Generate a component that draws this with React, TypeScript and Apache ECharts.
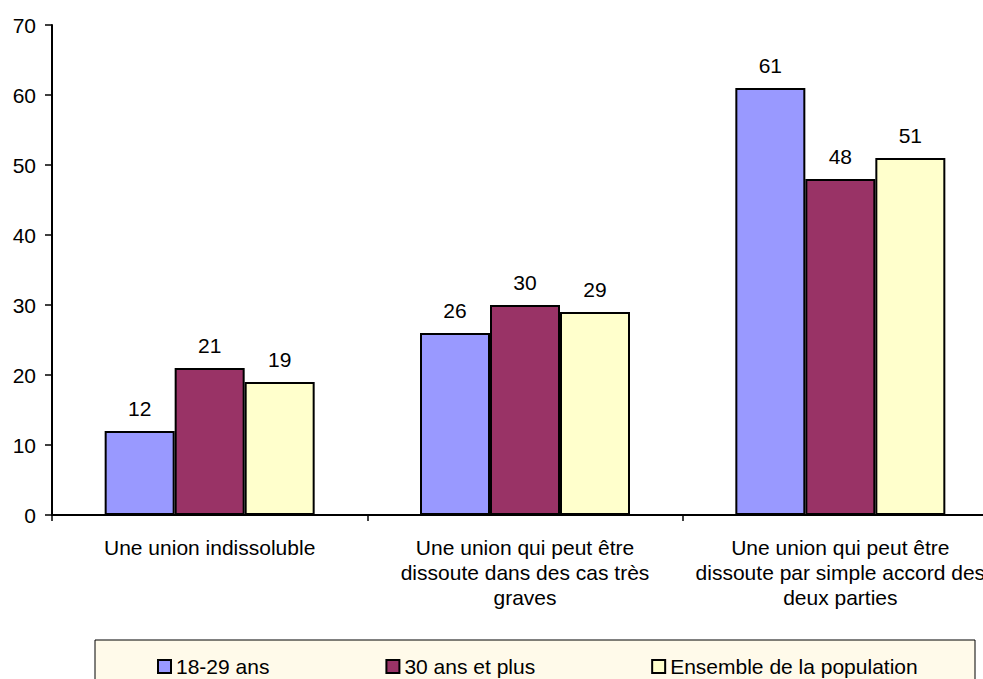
import React, { useEffect, useRef } from "react";
import * as echarts from "echarts";

const categories = [
  "Une union indissoluble",
  "Une union qui peut être\ndissoute dans des cas très\ngraves",
  "Une union qui peut être\ndissoute par simple accord des\ndeux parties",
];
const seriesNames = ["18-29 ans", "30 ans et plus", "Ensemble de la population"];
const values1829 = [12, 26, 61];
const values30plus = [21, 30, 48];
const valuesAll = [19, 29, 51];
const colors = ["#9999FF", "#993366", "#FFFFCC"];

export default function App() {
  const ref = useRef<HTMLDivElement>(null);
  useEffect(() => {
    if (!ref.current) return;
    const chart = echarts.init(ref.current, null, { renderer: "svg" });
    const font = "Liberation Sans, Arial, sans-serif";
    const data = [values1829, values30plus, valuesAll];
    chart.setOption({
      animation: false,
      textStyle: { fontFamily: font },
      grid: { left: 52, top: 25, width: 946, bottom: 164, containLabel: false },
      xAxis: {
        type: "category",
        data: categories,
        axisLine: { lineStyle: { color: "#000", width: 2 } },
        axisTick: { show: true, length: 6, lineStyle: { color: "#000", width: 1.5 } },
        axisLabel: {
          color: "#000",
          fontSize: 21,
          fontFamily: font,
          lineHeight: 25,
          margin: 20,
          interval: 0,
        },
      },
      yAxis: {
        type: "value",
        min: 0,
        max: 70,
        interval: 10,
        splitLine: { show: false },
        axisLine: { show: true, lineStyle: { color: "#000", width: 2 } },
        axisTick: { show: true, length: 7, lineStyle: { color: "#000", width: 1.5 } },
        axisLabel: { color: "#000", fontSize: 21, fontFamily: font, margin: 16 },
      },
      legend: {
        left: 152,
        top: 651,
        itemWidth: 13,
        itemHeight: 13,
        itemGap: 116,
        icon: "rect",
        textStyle: { color: "#000", fontSize: 21, fontFamily: font },
        data: seriesNames,
        z: 10,
      },
      graphic: [
        {
          type: "rect",
          z: 0,
          shape: { x: 95, y: 640, width: 880, height: 60 },
          style: { fill: "#FFFAEA", stroke: "#000", lineWidth: 1 },
        },
      ],
      series: seriesNames.map((name, i) => ({
        name,
        type: "bar",
        data: data[i],
        barWidth: 70,
        barGap: "0%",
        itemStyle: { color: colors[i], borderColor: "#000", borderWidth: 2 },
        label: {
          show: true,
          position: "top",
          distance: 12,
          color: "#000",
          fontSize: 21,
          fontFamily: font,
        },
      })),
    });
    return () => chart.dispose();
  }, []);
  return (
    <div style={{ width: 983, height: 679, position: "absolute", left: 0, top: 0, overflow: "hidden" }}>
      <div ref={ref} style={{ width: 1010, height: 679, position: "absolute", left: 0, top: 0 }} />
    </div>
  );
}
